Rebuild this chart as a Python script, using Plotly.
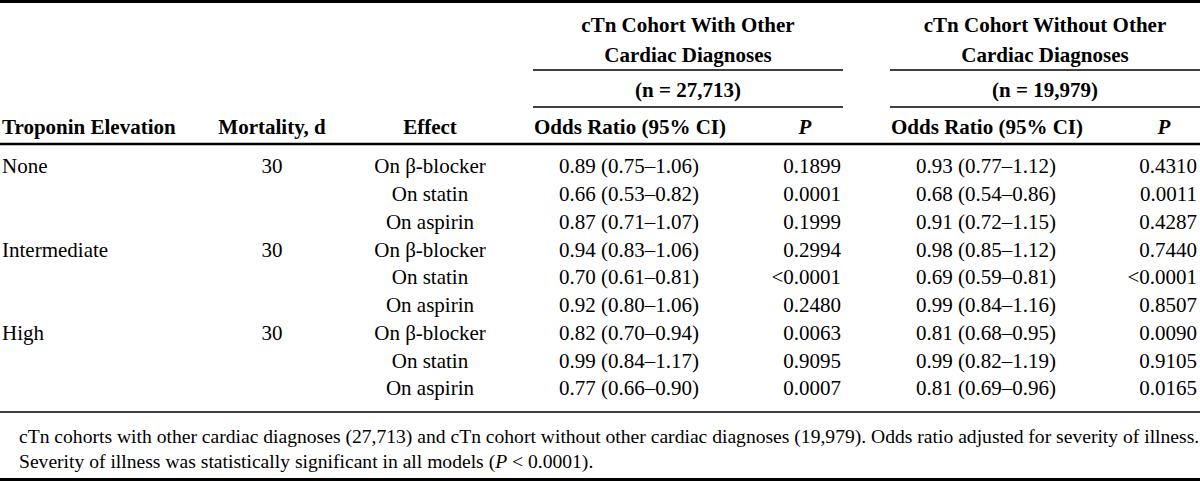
import plotly.graph_objects as go

# ---------------- data ----------------
troponin = ["None", "Intermediate", "High"]
mortality_days = [30, 30, 30]
effects = ["On β-blocker", "On statin", "On aspirin"]

or_with = [0.89, 0.66, 0.87, 0.94, 0.70, 0.92, 0.82, 0.99, 0.77]
lo_with = [0.75, 0.53, 0.71, 0.83, 0.61, 0.80, 0.70, 0.84, 0.66]
hi_with = [1.06, 0.82, 1.07, 1.06, 0.81, 1.06, 0.94, 1.17, 0.90]
p_with = ["0.1899", "0.0001", "0.1999", "0.2994", "&lt;0.0001", "0.2480", "0.0063", "0.9095", "0.0007"]

or_without = [0.93, 0.68, 0.91, 0.98, 0.69, 0.99, 0.81, 0.99, 0.81]
lo_without = [0.77, 0.54, 0.72, 0.85, 0.59, 0.84, 0.68, 0.82, 0.69]
hi_without = [1.12, 0.86, 1.15, 1.12, 0.81, 1.16, 0.95, 1.19, 0.96]
p_without = ["0.4310", "0.0011", "0.4287", "0.7440", "&lt;0.0001", "0.8507", "0.0090", "0.9105", "0.0165"]

group_titles = ["cTn Cohort With Other", "cTn Cohort Without Other"]
group_sub = ["Cardiac Diagnoses", "Cardiac Diagnoses"]
group_n = ["(n = 27,713)", "(n = 19,979)"]
col_headers = ["Troponin Elevation", "Mortality, d", "Effect",
               "Odds Ratio (95% CI)", "<i>P</i>", "Odds Ratio (95% CI)", "<i>P</i>"]
footnote = [
    "cTn cohorts with other cardiac diagnoses (27,713) and cTn cohort without other cardiac diagnoses (19,979). Odds ratio adjusted for severity of illness.",
    "Severity of illness was statistically significant in all models (<i>P</i> &lt; 0.0001).",
]

# ---------------- layout constants ----------------
W, H = 1200, 481
FONT = "Liberation Serif, Times New Roman, serif"
FS = 21
FS_HEAD = 21
FS_NOTE = 19.6
row0, drow = 168, 27.75

col_x = [2, 272, 430, 629, 841, 986, 1197]
col_pos = ["middle right", "middle center", "middle center", "middle center",
           "middle left", "middle center", "middle left"]
head_x = [2, 272, 430, 630, 805, 987, 1164]
group_x = [688, 1045]
group_span = [(533, 843), (890, 1200)]

n_rows = len(or_with)
row_y = [row0 + i * drow for i in range(n_rows)]


def fmt_or(o, l, h):
    return [f"{a:.2f} ({b:.2f}–{c:.2f})" for a, b, c in zip(o, l, h)]


tro_col = []
mort_col = []
eff_col = []
for t, m in zip(troponin, mortality_days):
    for j, e in enumerate(effects):
        tro_col.append(t if j == 0 else "")
        mort_col.append(str(m) if j == 0 else "")
        eff_col.append(e)

columns = [tro_col, mort_col, eff_col,
           fmt_or(or_with, lo_with, hi_with), p_with,
           fmt_or(or_without, lo_without, hi_without), p_without]

fig = go.Figure()


def add_text(xs, ys, texts, pos="middle center", size=FS):
    fig.add_trace(go.Scatter(
        x=xs, y=ys, text=texts, mode="text", textposition=pos,
        textfont=dict(family=FONT, size=size, color="#000"),
        hoverinfo="skip", showlegend=False, cliponaxis=False))


# body
for ci, col in enumerate(columns):
    add_text([col_x[ci]] * n_rows, row_y, col, col_pos[ci])

# column headers
for ci, h in enumerate(col_headers):
    pos = "middle right" if ci == 0 else "middle center"
    add_text([head_x[ci]], [129], [f"<b>{h}</b>"], pos, FS_HEAD)

# group headers
add_text(group_x, [27, 27], [f"<b>{t}</b>" for t in group_titles], size=FS_HEAD)
add_text(group_x, [57, 57], [f"<b>{t}</b>" for t in group_sub], size=FS_HEAD)
add_text(group_x, [92, 92], [f"<b>{t}</b>" for t in group_n], size=FS_HEAD)

# footnote
add_text([19, 19], [438, 463], footnote, "middle right", FS_NOTE)

# rules
def hline(y, x0, x1, w):
    fig.add_shape(type="line", x0=x0, x1=x1, y0=y, y1=y, xref="x", yref="y",
                  line=dict(color="#000", width=w))

hline(1.5, 0, W, 3)
for a, b in group_span:
    hline(70, a, b, 1.5)
    hline(107, a, b, 1.5)
hline(144, 0, W, 2.5)
hline(412, 0, W, 1.5)
hline(479.5, 0, W, 3)

fig.update_layout(
    width=W, height=H,
    margin=dict(l=0, r=0, t=0, b=0),
    paper_bgcolor="white", plot_bgcolor="white",
    xaxis=dict(range=[0, W], visible=False, fixedrange=True),
    yaxis=dict(range=[H, 0], visible=False, fixedrange=True),
)

fig.write_html(
    "out.html",
    config={"displayModeBar": False},
    post_script="document.body.style.margin='0';document.body.style.overflow='hidden';",
)
